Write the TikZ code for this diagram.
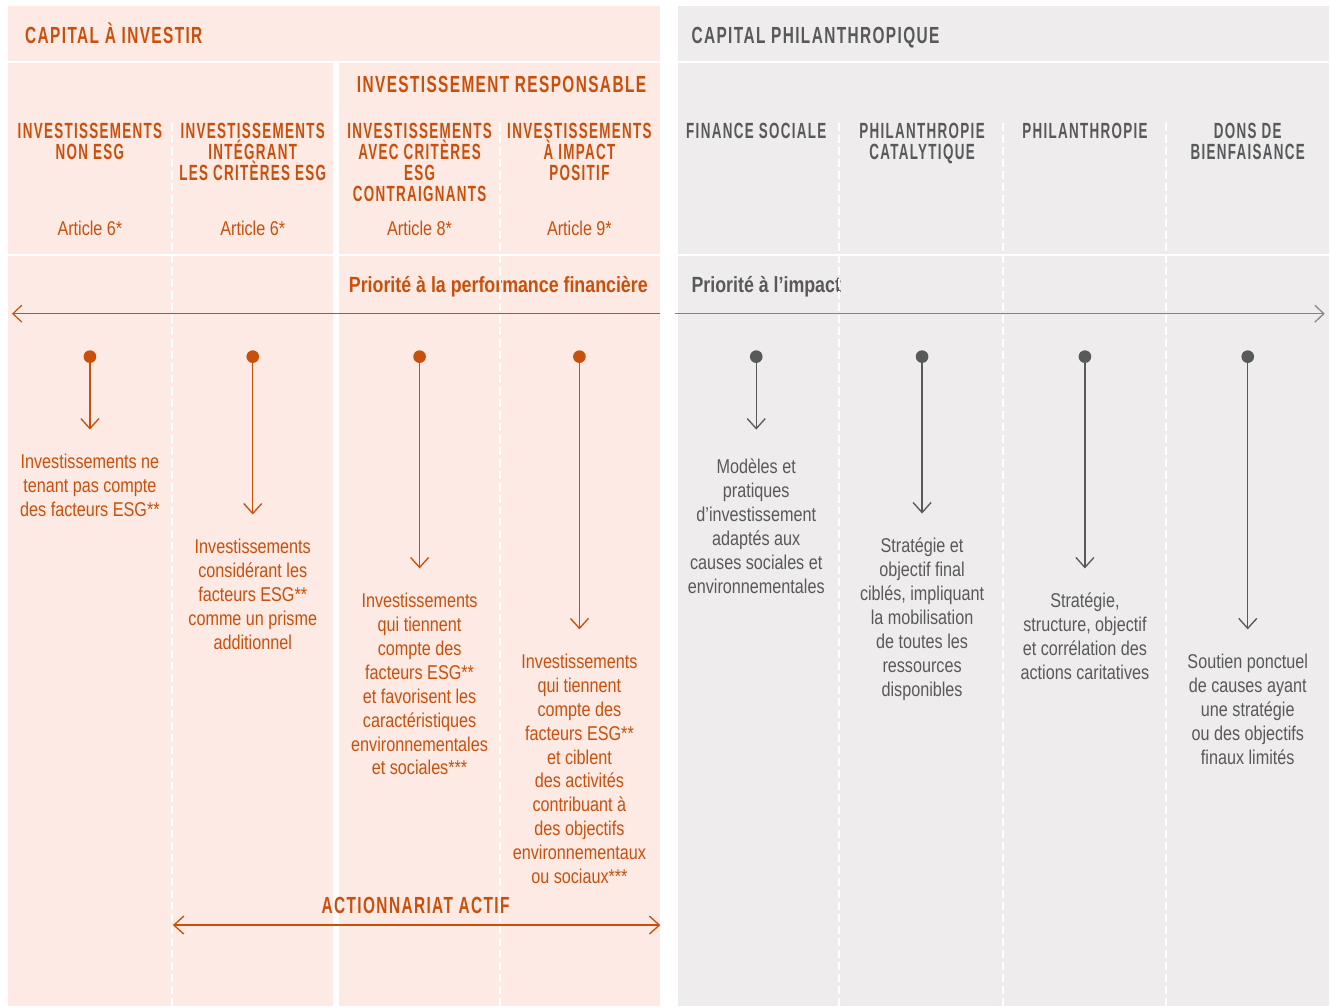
\documentclass[tikz,border=0pt]{standalone}
\usepackage{fontspec}
\usepackage{tikz}
\usetikzlibrary{positioning, arrows.meta}

\definecolor{peach}{RGB}{254,234,228}
\definecolor{mist}{RGB}{238,236,237}
\definecolor{rust}{RGB}{200,80,12}
\definecolor{slate}{RGB}{88,89,91}

\newfontfamily\bodyFont{Liberation Sans}[FakeStretch=0.81]
\newfontfamily\titleFont{Liberation Sans}[FakeStretch=0.66, LetterSpace=6]
\newfontfamily\capsFont{Liberation Sans}[FakeStretch=0.61, LetterSpace=6]

\begin{document}
\begin{tikzpicture}[x=0.75pt, y=-0.75pt,
			sepLine/.style={white, line width=2pt},
			colLine/.style={white, line width=1.5pt, dash pattern=on 6pt off 3pt},
			title/.style={inner sep=0pt, anchor=base west, font=\titleFont\bfseries\fontsize{17.5}{17.5}\selectfont},
			head/.style={inner sep=0pt, anchor=north, align=center, font=\capsFont\bfseries\fontsize{16.5}{15.75}\selectfont},
			article/.style={inner sep=0pt, anchor=base, font=\bodyFont\fontsize{15}{18}\selectfont},
			desc/.style={inner sep=0pt, align=center, font=\bodyFont\fontsize{15}{18}\selectfont},
			prio/.style={inner sep=0pt, anchor=base west, font=\bodyFont\bfseries\fontsize{16.5}{18}\selectfont},
			dot/.style={circle, inner sep=0pt, minimum size=9.5pt},
			arrowStrong/.style={line width=1pt, -{Straight Barb[length=7.5pt, width=13.5pt]}},
			arrowLong/.style={line width=0.9pt, -{Straight Barb[length=6.75pt, width=12.75pt]}},
			arrowBoth/.style={line width=1pt, {Straight Barb[length=7.5pt, width=13.5pt]}-{Straight Barb[length=7.5pt, width=13.5pt]}},
			]
			% page and panels
			\fill[white] (0,0) rectangle (1330,1007);
			\fill[peach] (8,6) rectangle (661,1007);
			\fill[mist] (679,6) rectangle (1330,1007);
			\draw[sepLine] (8,62) -- (661,62);
			\draw[sepLine] (679,62) -- (1330,62);
			\draw[sepLine, line width=1.5pt] (8,255) -- (661,255);
			\draw[sepLine, line width=1.5pt] (679,255) -- (1330,255);
			\fill[white] (333,62) rectangle (339,1007);
			
			% titles
			\draw node[title, text=rust] (capInvest) at (25,44) {CAPITAL À INVESTIR};
			\draw node[title, text=slate] (capPhilo) at (692,44) {CAPITAL PHILANTHROPIQUE};
			\draw node[title, text=rust, anchor=base] (respInvest) at (502,93) {INVESTISSEMENT RESPONSABLE};
			\draw node[prio, text=rust] (prioPerf) at (349,293) {Priorité à la performance financière};
			\draw node[prio, text=slate] (prioImpact) at (692,293) {Priorité à l’impact};
			
			% capital a investir
			\foreach \i/\x/\ty/\gp/\hd/\ar/\tx in {
				1/90/430/18pt/{INVESTISSEMENTS\\NON ESG}/{Article 6*}/{Investissements ne\\tenant pas compte\\des facteurs ESG**},
				2/253/515/18pt/{INVESTISSEMENTS\\INTÉGRANT\\LES CRITÈRES ESG}/{Article 6*}/{Investissements\\considérant les\\facteurs ESG**\\comme un prisme\\additionnel},
				3/420/569/18pt/{INVESTISSEMENTS\\AVEC CRITÈRES\\ESG\\CONTRAIGNANTS}/{Article 8*}/{Investissements\\qui tiennent\\compte des\\facteurs ESG**\\et favorisent les\\caractéristiques\\environnementales\\et sociales***},
				4/580/630/18pt/{INVESTISSEMENTS\\À IMPACT\\POSITIF}/{Article 9*}/{Investissements\\qui tiennent\\compte des\\facteurs ESG**\\et ciblent\\des activités\\contribuant à\\des objectifs\\environnementaux\\ou sociaux***}}
			{
				\draw node[head, text=rust] (head\i) at (\x,123) {\hd};
				\draw node[article, text=rust] (art\i) at (\x,236) {\ar};
				\draw node[dot, fill=rust] (dot\i) at (\x,357) {};
				\coordinate (tip\i) at (\x,\ty);
				\draw [arrowStrong, rust] (dot\i) -- (tip\i);
				\draw node[desc, text=rust, below=\gp of tip\i] (desc\i) {\tx};
			}
			
			% capital philanthropique
			\foreach \i/\x/\ty/\gp/\hd/\tx in {
				5/757/430/22pt/{FINANCE SOCIALE}/{Modèles et\\pratiques\\d’investissement\\adaptés aux\\causes sociales et\\environnementales},
				6/923/514/18pt/{PHILANTHROPIE\\CATALYTIQUE}/{Stratégie et\\objectif final\\ciblés, impliquant\\la mobilisation\\de toutes les\\ressources\\disponibles},
				7/1086/569/18pt/{PHILANTHROPIE}/{Stratégie,\\structure, objectif\\et corrélation des\\actions caritatives},
				8/1249/630/18pt/{DONS DE\\BIENFAISANCE}/{Soutien ponctuel\\de causes ayant\\une stratégie\\ou des objectifs\\finaux limités}}
			{
				\draw node[head, text=slate] (head\i) at (\x,123) {\hd};
				\draw node[dot, fill=slate] (dot\i) at (\x,357) {};
				\coordinate (tip\i) at (\x,\ty);
				\draw [arrowStrong, slate] (dot\i) -- (tip\i);
				\draw node[desc, text=slate, below=\gp of tip\i] (desc\i) {\tx};
			}
			
			% column rules
			\foreach \x in {172,500,840,1004,1167}
			\draw [colLine] (\x,123) -- (\x,1007);
			
			% Arrow
			\coordinate (perfStart) at (661,314);
			\coordinate (perfEnd) at (12,314);
			\draw [arrowLong, rust] (perfStart) -- (perfEnd);
			\coordinate (impactStart) at (676,314);
			\coordinate (impactEnd) at (1326,314);
			\draw [arrowLong, slate!75] (impactStart) -- (impactEnd);
			
			\coordinate (actLeft) at (173,926);
			\coordinate (actRight) at (661,926);
			\draw [arrowBoth, rust] (actLeft) -- (actRight);
			\draw node[title, text=rust, anchor=base] (actif) at (416,914) {ACTIONNARIAT ACTIF};
			
		\end{tikzpicture}
\end{document}
